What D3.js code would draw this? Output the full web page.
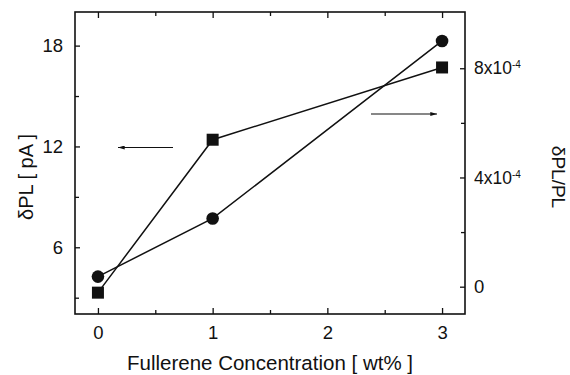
<!DOCTYPE html>
<html>
<head>
<meta charset="utf-8">
<script src="https://cdn.jsdelivr.net/npm/d3@7"></script>
<style>
  body { margin: 0; background: #fff; }
  svg text { font-family: "Liberation Sans", Arial, sans-serif; fill: #111; }
  .axis path, .axis line { stroke: #111; }
</style>
</head>
<body>
<svg id="chart" width="570" height="375"></svg>
<script>
// Fullerene concentration (wt%)
const concentration = [0, 1, 3];
// squares: dPL in pA (left axis)
const dplValues = [3.3, 12.4, 16.7];
// circles: dPL/PL (right axis)
const ratioValues = [0.37e-4, 2.5e-4, 9.0e-4];

const xTicks = [0, 1, 2, 3];
const xMinor = [0.5, 1.5, 2.5];
const leftTicks = [6, 12, 18];
const leftMinor = [3, 9, 15];
const rightTicks = [0, 4e-4, 8e-4];
const rightMinor = [2e-4, 6e-4];

const margin = { top: 12, right: 105, bottom: 61, left: 75 };
const width = 570 - margin.left - margin.right;
const height = 375 - margin.top - margin.bottom;

const svg = d3.select("#chart");
const g = svg.append("g").attr("transform", `translate(${margin.left},${margin.top})`);

const x = d3.scaleLinear().domain([-0.2, 3.2]).range([0, width]);
const yLeft = d3.scaleLinear().domain([2.03, 20]).range([height, 0]);
const yRight = d3.scaleLinear().domain([-1e-4, 10.06e-4]).range([height, 0]);

// arrow head
svg.append("defs").append("marker")
  .attr("id", "head")
  .attr("viewBox", "0 0 10 6")
  .attr("refX", 10).attr("refY", 3)
  .attr("markerWidth", 7).attr("markerHeight", 4)
  .attr("markerUnits", "userSpaceOnUse")
  .attr("orient", "auto")
  .append("path").attr("d", "M0,0 L10,3 L0,6 Z").attr("fill", "#111");

function styleAxis(sel) {
  sel.classed("axis", true);
  sel.select(".domain").remove();
  sel.selectAll("line").attr("stroke-width", 1.3);
  sel.selectAll("text").attr("font-size", 18.5);
}

// bottom axis
g.append("g").attr("transform", `translate(0,${height})`)
  .call(d3.axisBottom(x).tickValues(xTicks).tickSizeInner(-6).tickSizeOuter(0).tickPadding(12).tickFormat(d3.format("d")))
  .call(styleAxis);
g.append("g").attr("transform", `translate(0,${height})`)
  .call(d3.axisBottom(x).tickValues(xMinor).tickSizeInner(-4).tickSizeOuter(0).tickFormat(""))
  .call(styleAxis);
// top ticks
g.append("g")
  .call(d3.axisTop(x).tickValues(xTicks).tickSizeInner(-6).tickSizeOuter(0).tickFormat(""))
  .call(styleAxis);
g.append("g")
  .call(d3.axisTop(x).tickValues(xMinor).tickSizeInner(-4).tickSizeOuter(0).tickFormat(""))
  .call(styleAxis);

// left axis
g.append("g")
  .call(d3.axisLeft(yLeft).tickValues(leftTicks).tickSizeInner(-5).tickSizeOuter(0).tickPadding(12).tickFormat(d3.format("d")))
  .call(styleAxis);
g.append("g")
  .call(d3.axisLeft(yLeft).tickValues(leftMinor).tickSizeInner(-4).tickSizeOuter(0).tickFormat(""))
  .call(styleAxis);

// right axis
const rightAxis = g.append("g").attr("transform", `translate(${width},0)`)
  .call(d3.axisRight(yRight).tickValues(rightTicks).tickSizeInner(-5).tickSizeOuter(0).tickPadding(9))
  .call(styleAxis);
rightAxis.selectAll(".tick text").each(function(d) {
  const t = d3.select(this).text(null).attr("font-size", 17.5);
  if (d === 0) { t.text("0").attr("font-size", 18.5); return; }
  t.append("tspan").text(Math.round(d * 1e4) + "x10");
  t.append("tspan").attr("font-size", 10).attr("dy", -6).text("-4");
});
g.append("g").attr("transform", `translate(${width},0)`)
  .call(d3.axisRight(yRight).tickValues(rightMinor).tickSizeInner(-4).tickSizeOuter(0).tickFormat(""))
  .call(styleAxis);

// frame
g.append("rect").attr("width", width).attr("height", height)
  .attr("fill", "none").attr("stroke", "#111").attr("stroke-width", 1.6);

// lines
const lineLeft = d3.line().x((d, i) => x(concentration[i])).y(d => yLeft(d));
const lineRight = d3.line().x((d, i) => x(concentration[i])).y(d => yRight(d));

g.append("path").datum(dplValues).attr("d", lineLeft)
  .attr("fill", "none").attr("stroke", "#111").attr("stroke-width", 1.5);
g.append("path").datum(ratioValues).attr("d", lineRight)
  .attr("fill", "none").attr("stroke", "#111").attr("stroke-width", 1.5);

// markers
g.selectAll(".sq").data(dplValues).join("rect")
  .attr("x", (d, i) => x(concentration[i]) - 6)
  .attr("y", d => yLeft(d) - 6)
  .attr("width", 12).attr("height", 12).attr("fill", "#111");
g.selectAll(".ci").data(ratioValues).join("circle")
  .attr("cx", (d, i) => x(concentration[i]))
  .attr("cy", d => yRight(d))
  .attr("r", 6.3).attr("fill", "#111");

// arrows pointing to the axis each series belongs to
g.append("line")
  .attr("x1", 98).attr("y1", 135.5).attr("x2", 43).attr("y2", 135.5)
  .attr("stroke", "#111").attr("stroke-width", 1.1).attr("marker-end", "url(#head)");
g.append("line")
  .attr("x1", 296).attr("y1", 102).attr("x2", 362).attr("y2", 102)
  .attr("stroke", "#111").attr("stroke-width", 1.1).attr("marker-end", "url(#head)");

// axis titles
svg.append("text")
  .attr("x", margin.left + width / 2).attr("y", 370)
  .attr("text-anchor", "middle").attr("font-size", 20.5)
  .text("Fullerene Concentration [ wt% ]");
svg.append("text")
  .attr("transform", "translate(33,177) rotate(-90)")
  .attr("text-anchor", "middle").attr("font-size", 20)
  .text("δPL [ pA ]");
svg.append("text")
  .attr("transform", "translate(552,177) rotate(90)")
  .attr("text-anchor", "middle").attr("font-size", 19)
  .text("δPL/PL");
</script>
</body>
</html>
